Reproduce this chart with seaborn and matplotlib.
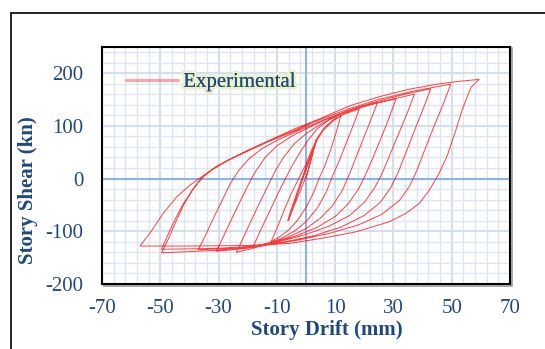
import numpy as np
import pandas as pd
import matplotlib
matplotlib.use("Agg")
import matplotlib.pyplot as plt
from matplotlib.lines import Line2D
from matplotlib.patches import Rectangle
import matplotlib.patheffects as pe
import seaborn as sns

# Cyclic test record: story drift (mm) and story shear (kN), one cycle per pair of lists
drift_c0 = [0.0, 3.5, 2.8, -1.0, -6.0, -5.0, 0.5, 3.6, 2.9, -1.2, -6.2]
shear_c0 = [0, 73, 60, 2, -79, -64, 10, 75, 61, 0, -80]

drift_c1 = [-5.0, -2.5, 0.0, 2.0, 4.0, 6.0, 9.0, 12.0,
            10.5, 8.5, 6.5, 4.5, 2.5, 0.0, -3.0, -6.0, -9.0, -12.0]
shear_c1 = [-58, -18, 22, 50, 75, 92, 108, 119,
            90, 55, 25, 0, -28, -55, -80, -98, -110, -120]

drift_c2 = [-10.0, -7.5, -5.0, -2.5, 0.0, 2.0, 4.0, 6.5, 10.0, 14.0, 18.3,
            16.5, 14.0, 11.5, 9.2, 7.0, 4.0, 0.0, -4.0, -9.0, -14.0, -18.2]
shear_c2 = [-95, -60, -28, 0, 28, 55, 78, 98, 114, 124, 132,
            105, 70, 35, 6, -25, -55, -82, -100, -115, -124, -130]

drift_c3 = [-16.0, -13.0, -10.0, -7.5, -5.0, -2.0, 1.0, 4.0, 8.0, 13.0, 19.0, 24.6,
            22.5, 20.0, 17.3, 14.9, 12.5, 9.0, 5.0, 0.0, -6.0, -12.0, -18.0, -23.9]
shear_c3 = [-103, -68, -33, -5, 22, 50, 75, 95, 112, 126, 137, 145,
            115, 80, 42, 8, -22, -52, -75, -95, -111, -122, -132, -140]

drift_c4 = [-21.5, -19.0, -16.0, -13.0, -10.5, -7.5, -4.0, 0.0, 5.0, 11.0, 18.0, 24.0, 30.9,
            28.5, 26.0, 23.0, 20.5, 18.0, 14.5, 10.0, 4.0, -3.0, -10.0, -20.0, -30.8]
shear_c4 = [-112, -82, -47, -13, 15, 42, 66, 85, 103, 120, 134, 143, 151,
            115, 80, 40, 8, -20, -48, -72, -92, -108, -120, -132, -138]

drift_c5 = [-28.5, -26.0, -23.0, -20.0, -17.5, -14.0, -10.0, -5.0, 0.0, 6.0, 14.0, 22.0, 30.0, 37.2,
            34.8, 32.0, 29.0, 26.0, 23.5, 20.0, 15.0, 8.0, 0.0, -8.0, -18.0, -28.0, -37.0]
shear_c5 = [-112, -82, -48, -14, 12, 40, 62, 80, 94, 110, 127, 140, 151, 160,
            125, 88, 48, 8, -18, -45, -70, -90, -106, -118, -128, -133, -135]

drift_c6 = [-34.5, -32.0, -29.0, -26.0, -23.0, -19.5, -15.0, -9.0, -2.0, 6.0, 15.0, 25.0, 34.0, 42.8,
            40.2, 37.5, 34.5, 31.5, 29.0, 25.5, 20.0, 12.0, 3.0, -7.0, -20.0, -35.0, -49.6]
shear_c6 = [-108, -78, -44, -10, 16, 38, 57, 75, 92, 111, 130, 147, 160, 170,
            132, 95, 52, 10, -18, -45, -70, -92, -108, -120, -130, -133, -134]

drift_c7 = [-47.5, -45.0, -42.0, -38.5, -35.0, -31.0, -26.0, -20.0, -13.0, -5.0, 4.0, 14.0, 25.0, 37.0, 49.7,
            47.0, 44.0, 41.0, 38.0, 35.5, 32.0, 26.0, 18.0, 8.0, -3.0, -15.0, -30.0, -49.6]
shear_c7 = [-108, -78, -47, -18, 5, 22, 37, 52, 70, 89, 110, 131, 150, 166, 179,
            140, 100, 58, 15, -15, -42, -68, -88, -104, -117, -128, -136, -141]

drift_c8 = [-47.0, -44.5, -42.0, -39.0, -36.0, -32.0, -27.0, -20.0, -12.0, -4.0, 5.0, 15.0, 25.0, 35.0,
            45.0, 52.0, 59.4,
            56.6, 53.7, 51.2, 48.5, 45.5, 42.3, 38.9, 34.3, 28.6, 17.2, 5.8, -5.6, -20.0, -40.0, -57.0]
shear_c8 = [-112, -80, -50, -22, 0, 18, 34, 53, 74, 94, 114, 138, 155, 169,
            179, 184, 188,
            173, 132, 88, 44, 8, -22, -47, -66, -82, -101, -113, -123, -127, -128, -128]

drift_c9 = [-53.6, -49.0, -44.4, -39.9, -35.9, -31.9, -26.2, -20.5, -14.8, -9.1, -3.3, 1.2]
shear_c9 = [-104, -66, -35, -13, 3, 18, 36, 52, 66, 79, 91, 103]

x_ticks = [-70, -50, -30, -10, 10, 30, 50, 70]
y_ticks = [-200, -100, 0, 100, 200]
series_name = "Experimental"

drift = sum([drift_c0, drift_c1, drift_c2, drift_c3, drift_c4,
             drift_c5, drift_c6, drift_c7, drift_c8, drift_c9], [])
shear = sum([shear_c0, shear_c1, shear_c2, shear_c3, shear_c4,
             shear_c5, shear_c6, shear_c7, shear_c8, shear_c9], [])
df = pd.DataFrame({"drift": drift, "shear": shear})

sns.set_theme(style="white")
plt.rcParams["font.family"] = ["Liberation Serif", "DejaVu Serif"]
plt.rcParams["axes.unicode_minus"] = False

W, H = 545, 349
fig = plt.figure(figsize=(W / 100, H / 100), dpi=100)
fig.patch.set_facecolor("white")

# plot area in pixel terms
L, R, T, B = 102, 510, 46.7, 284
ax = fig.add_axes([L / W, 1 - B / H, (R - L) / W, (B - T) / H])

text_blue = "#1F497D"

sns.lineplot(data=df, x="drift", y="shear", sort=False, estimator=None,
             color="red", lw=0.7, alpha=0.75, ax=ax, legend=False, zorder=3)

ax.set_xlim(-70, 70)
ax.set_ylim(-200, 250)
ax.set_xticks(x_ticks)
ax.set_yticks(y_ticks)
ax.set_xticks(np.arange(-70, 71, 4), minor=True)
ax.set_yticks(np.arange(-200, 251, 20), minor=True)
ax.grid(which="minor", color="#dce6f2", lw=1.0)
ax.grid(which="major", color="#d2dff0", lw=1.5)
ax.set_axisbelow(True)
ax.axhline(0, color="#8db3e2", lw=1.5, zorder=2)
ax.axvline(0, color="#8db3e2", lw=1.5, zorder=2)

ax.tick_params(which="both", length=0)
ax.tick_params(axis="x", pad=10.5, labelsize=15, labelcolor=text_blue)
ax.tick_params(axis="y", pad=13.5, labelsize=15, labelcolor=text_blue)

for s in ax.spines.values():
    s.set_color("black")
    s.set_linewidth(1.5)

ax.set_xlabel("Story Drift (mm)", fontsize=15, fontweight="bold", color=text_blue)
ax.set_ylabel("Story Shear (kn)", fontsize=15, fontweight="bold", color=text_blue)
ax.xaxis.set_label_coords((326.5 - L) / (R - L), (B - 330) / (B - T))
ax.xaxis.label.set_va("center")
ax.yaxis.set_label_coords((28 - L) / (R - L), (B - 190) / (B - T))
ax.yaxis.label.set_va("center")

handle = Line2D([], [], color="red", alpha=0.35, lw=2.2)
leg = ax.legend([handle], [series_name], loc="center left",
                bbox_to_anchor=((126 - L) / (R - L), (B - 82) / (B - T)),
                frameon=False, borderpad=0, borderaxespad=0,
                handlelength=2.5, handletextpad=0.25, fontsize=15)
for t in leg.get_texts():
    t.set_color(text_blue)
    t.set_path_effects([pe.withStroke(linewidth=4, foreground="#e9f2cc"), pe.Normal()])

# soft shadow along the plot-area frame
fig.patches.append(Rectangle(((L + 1.5) / W, 1 - (B + 1.5) / H), (R - L) / W, (B - T) / H,
                             transform=fig.transFigure, fill=False,
                             edgecolor="#9a9a9a", lw=1.2, zorder=-1))
# chart-area border
fig.patches.append(Rectangle((10.5 / W, -0.5), 2.0, (H - 12.7) / H + 0.5,
                             transform=fig.transFigure, fill=False,
                             edgecolor="black", lw=1.2, zorder=-2))

fig.savefig("out.png", dpi=100)
